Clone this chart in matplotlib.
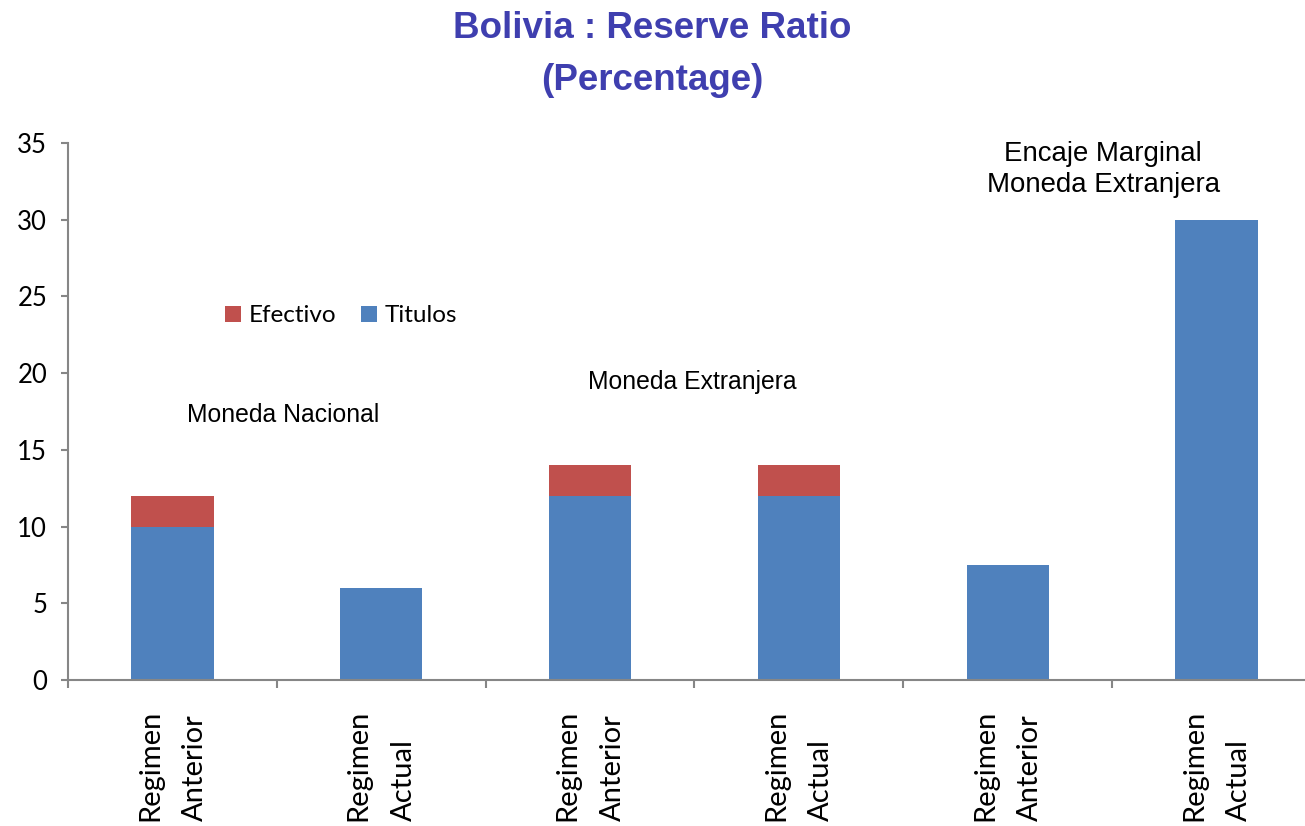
import matplotlib.pyplot as plt
import numpy as np

# data
categories = ["Regimen\nAnterior", "Regimen\nActual", "Regimen\nAnterior",
              "Regimen\nActual", "Regimen\nAnterior", "Regimen\nActual"]
titulos = [10, 6, 12, 12, 7.5, 30]
efectivo = [2, 0, 2, 2, 0, 0]
group_labels = ["Moneda Nacional", "Moneda Extranjera", "Encaje Marginal\nMoneda Extranjera"]
group_pos = [(0.53, 17.3), (2.49, 19.4), (4.457, 33.25)]
group_sizes = [17.8, 17.8, 19.9]

blue = '#4F81BD'
red = '#C0504D'
axis_gray = '#868686'

fig = plt.figure(figsize=(13.05, 8.26), dpi=100)
# plot area runs a bit past the right edge, as in the original
ax = fig.add_axes([68/1305, 146/826, 1253/1305, 537/826])

x = np.arange(len(categories))
ax.bar(x, titulos, width=0.395, color=blue, label='Titulos', zorder=2)
ax.bar(x, efectivo, width=0.395, bottom=titulos, color=red, label='Efectivo', zorder=2)

ax.set_xlim(-0.5, 5.5)
ax.set_ylim(0, 35)
ax.set_yticks(range(0, 36, 5))

for s in ['top', 'right']:
    ax.spines[s].set_visible(False)
for s in ['left', 'bottom']:
    ax.spines[s].set_color(axis_gray)
    ax.spines[s].set_linewidth(1.5)

ax.tick_params(axis='y', length=5, width=1.5, color=axis_gray, pad=10,
               labelsize=18.5, labelcolor='black')
for lab in ax.get_yticklabels():
    lab.set_fontfamily('Lato')

# category labels centred, separator ticks between categories
ax.set_xticks(x)
ax.set_xticklabels(categories, rotation=90, fontsize=21, fontfamily='Lato',
                   linespacing=1.9)
for lab in ax.get_xticklabels():
    lab.set_multialignment('left')
ax.set_xticks(np.arange(-0.5, 6, 1), minor=True)
ax.tick_params(axis='x', which='major', length=0, pad=21)
ax.tick_params(axis='x', which='minor', length=6, width=1.5, color=axis_gray)

for txt, (gx, gy), fs in zip(group_labels, group_pos, group_sizes):
    ax.text(gx, gy, txt, ha='center', va='center', fontsize=fs,
            fontfamily='Liberation Sans', linespacing=1.25)

handles, labels = ax.get_legend_handles_labels()
ax.legend(handles[::-1], labels[::-1], loc='center left',
          bbox_to_anchor=(0.108, 0.678), ncol=2, frameon=False,
          prop={'family': 'Lato', 'size': 17.5}, handlelength=0.65,
          handleheight=0.65, handletextpad=0.3, columnspacing=1.05)

fig.text(0.5, 1 - 29/826, "Bolivia : Reserve Ratio", ha='center', va='center',
         fontsize=26.5, fontweight='bold', color='#3F3FAF', fontfamily='Liberation Sans')
fig.text(0.5, 1 - 81/826, "(Percentage)", ha='center', va='center',
         fontsize=26.5, fontweight='bold', color='#3F3FAF', fontfamily='Liberation Sans')

fig.savefig('out.png', dpi=100)
